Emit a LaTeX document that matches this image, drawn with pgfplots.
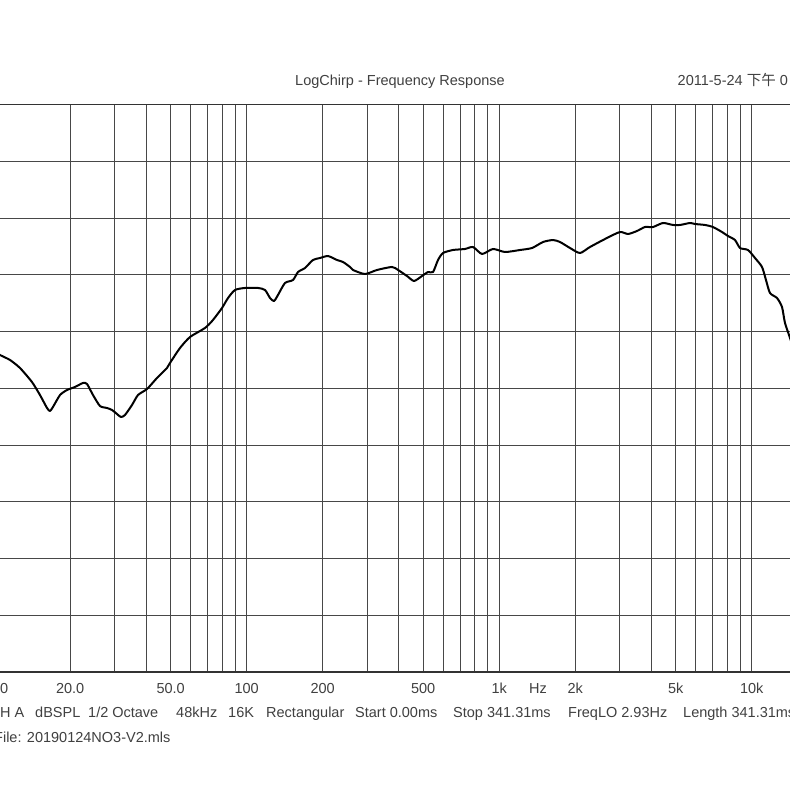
\documentclass[border=0pt]{standalone}
\usepackage{pgfplots}
\pgfplotsset{compat=1.18}
\usepackage{fontspec}
\setmainfont{Liberation Sans}
\newfontfamily\cjk{Noto Sans CJK SC}
\definecolor{txt}{gray}{0.25}
\definecolor{gridc}{gray}{0.28}
\newcommand{\lf}{\fontsize{14.5}{17}\selectfont}
\begin{document}
\begin{tikzpicture}[x=1pt,y=1pt]
\useasboundingbox (0,0) rectangle (790,790);
\fill[white] (0,0) rectangle (790,790);
\clip (0,0) rectangle (790,790);
\begin{axis}[
  at={(-5.8pt,118pt)}, anchor=south west,
  scale only axis, width=833.5pt, height=567.5pt,
  xmode=log, xmin=10, xmax=20000, ymin=0, ymax=10,
  xtick={10,20,30,40,50,60,70,80,90,100,200,300,400,500,600,700,800,900,1000,2000,3000,4000,5000,6000,7000,8000,9000,10000,20000},
  xticklabels={10.0,20.0,,,50.0,,,,,100,200,,,500,,,,,1k,2k,,,5k,,,,,10k,},
  extra x ticks={1424}, extra x tick labels={Hz},
  extra x tick style={grid=none},
  minor xtick={},
  ytick={0,1,...,10}, yticklabels={},
  major tick length=0pt, minor tick length=0pt,
  grid=major,
  major grid style={gridc, line width=0.9pt},
  axis line style={black!80, line width=1.6pt},
  xticklabel style={anchor=base, yshift=-22pt, font=\lf, text=txt},
  clip=true,
]
\addplot[black, line width=2pt, smooth, tension=0.4, line join=round] coordinates {
(10.0,5.65) (10.54,5.586) (11.55,5.498) (12.65,5.357) (14.11,5.110) (15.18,4.881)
(16.19,4.652) (16.63,4.599) (17.09,4.670) (18.23,4.881) (19.43,4.969)
(20.89,5.022) (22.47,5.093) (23.31,5.075) (24.62,4.881) (26.24,4.687)
(27.98,4.652) (29.28,4.617) (30.65,4.546) (31.78,4.493) (32.96,4.529)
(35.14,4.705) (37.12,4.881) (40.29,4.987) (44.13,5.181) (48.34,5.357)
(49.68,5.445) (54.43,5.709) (59.64,5.903) (68.38,6.062) (73.53,6.203)
(79.83,6.414) (84.34,6.590) (89.88,6.731) (98.46,6.767) (110.9,6.767)
(118.2,6.731) (123.7,6.590) (128.3,6.537) (133.0,6.643) (141.8,6.855)
(152.5,6.907) (159.7,7.048) (170.2,7.119) (183.0,7.260) (195.2,7.295)
(209.9,7.330) (227.8,7.260) (240.6,7.225) (256.5,7.137) (263.6,7.084)
(294.1,7.013) (328.1,7.084) (376.3,7.137) (397.5,7.084) (431.3,6.978)
(459.8,6.890) (494.7,6.978) (522.5,7.048) (547.0,7.048) (572.4,7.260)
(599.1,7.383) (656.2,7.436) (731.9,7.454) (787.5,7.489) (855.0,7.366)
(945.0,7.454) (1054.3,7.401) (1209,7.436) (1348.6,7.471) (1491.1,7.577)
(1633.3,7.612) (1741.1,7.577) (1907.8,7.471) (2089.3,7.383) (2288.3,7.489)
(2672.6,7.648) (3009.1,7.753) (3236.8,7.718) (3513.7,7.771) (3779.6,7.841)
(4065.6,7.841) (4454.0,7.912) (4879.5,7.877) (5200.3,7.877) (5697.7,7.912)
(5963.6,7.894) (6532.9,7.877) (7026.2,7.841) (7627.8,7.753) (8056.2,7.683)
(8588.3,7.612) (8988.7,7.471) (9668.3,7.436) (10305,7.295) (10985,7.137)
(11392,6.907) (11815,6.678) (12596,6.590) (13183,6.432) (13548,6.150)
(14181,5.885) (15535,5.322) (17813,4.264)
};
\end{axis}
\begin{scope}[every node/.style={inner sep=0pt, font=\lf, text=txt}]
\node[anchor=base] at (400,704) {LogChirp - Frequency Response};
\node[anchor=base west] at (677.5,704) {2011-5-24 {\cjk 下午} 0};
\node[anchor=base west] at (-10.5,72) {CH A};
\node[anchor=base west] at (35,72) {dBSPL};
\node[anchor=base west] at (88,72) {1/2 Octave};
\node[anchor=base west] at (176,72) {48kHz};
\node[anchor=base west] at (228,72) {16K};
\node[anchor=base west] at (266,72) {Rectangular};
\node[anchor=base west] at (355,72) {Start 0.00ms};
\node[anchor=base west] at (453,72) {Stop 341.31ms};
\node[anchor=base west] at (568,72) {FreqLO 2.93Hz};
\node[anchor=base west] at (683,72) {Length 341.31ms};
\node[anchor=base west] at (-6,47) {File: 20190124NO3-V2.mls};
\end{scope}
\end{tikzpicture}
\end{document}
